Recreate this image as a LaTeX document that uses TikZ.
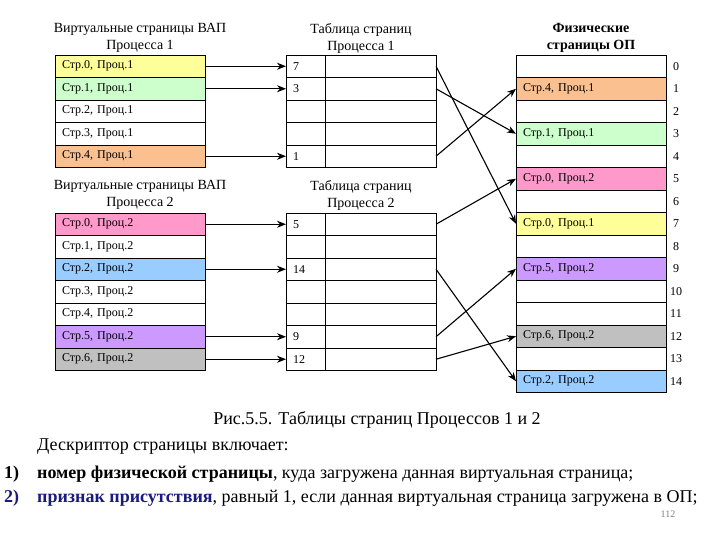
\documentclass[tikz,border=0pt]{standalone}
\usepackage{fontspec}
\setmainfont{Liberation Serif}
\usepackage{tikz}
\usetikzlibrary{arrows.meta, positioning}

\definecolor{strjelt}{HTML}{FFFF99}
\definecolor{strzel}{HTML}{CCFFCC}
\definecolor{strpers}{HTML}{FAC090}
\definecolor{strroz}{HTML}{FF99CC}
\definecolor{strgol}{HTML}{99CCFF}
\definecolor{strfiol}{HTML}{CC99FF}
\definecolor{strser}{HTML}{C0C0C0}
\definecolor{tsin}{HTML}{1A1A80}

\begin{document}
\begin{tikzpicture}[
				x=1pt, y=-1pt,
				yacheika/.style={draw, rectangle, minimum height=22.5pt, text width=136pt, inner xsep=7pt, inner ysep=0pt, outer sep=0pt, align=left, font=\fontsize{12}{13}\selectfont, line width=0.8pt, fill=white},
				zagolovok/.style={align=center, font=\fontsize{14}{17}\selectfont, inner sep=0pt},
				nomer/.style={font=\fontsize{12}{13}\selectfont, inner sep=0pt},
				tekst/.style={anchor=west, font=\fontsize{18}{21}\selectfont, inner sep=0pt},
				panah/.style={->, >={Stealth[length=9pt, width=7pt]}, line width=1.1pt}
			]
			\useasboundingbox (0,0) rectangle (720,540);

			% Виртуальные страницы Процесса 1
			\node[zagolovok] (zvap1) at (140,38) {Виртуальные страницы ВАП\\Процесса 1};
			\node[yacheika, anchor=north west, fill=strjelt] (vap1-0) at (55,55) {Стр.0, Проц.1};
			\node[yacheika, below=0pt of vap1-0, fill=strzel] (vap1-1) {Стр.1, Проц.1};
			\node[yacheika, below=0pt of vap1-1] (vap1-2) {Стр.2, Проц.1};
			\node[yacheika, below=0pt of vap1-2] (vap1-3) {Стр.3, Проц.1};
			\node[yacheika, below=0pt of vap1-3, fill=strpers] (vap1-4) {Стр.4, Проц.1};

			% Таблица страниц Процесса 1
			\node[zagolovok] (zpt1) at (361,38) {Таблица страниц\\Процесса 1};
			\node[yacheika, anchor=north west] (pt1-0) at (286,55) {7};
			\node[yacheika, below=0pt of pt1-0] (pt1-1) {3};
			\node[yacheika, below=0pt of pt1-1] (pt1-2) {};
			\node[yacheika, below=0pt of pt1-2] (pt1-3) {};
			\node[yacheika, below=0pt of pt1-3] (pt1-4) {1};
			\draw[line width=0.8pt] ([xshift=39pt]pt1-0.north west) -- ([xshift=39pt]pt1-4.south west);

			% Виртуальные страницы Процесса 2
			\node[zagolovok] (zvap2) at (140,195) {Виртуальные страницы ВАП\\Процесса 2};
			\node[yacheika, anchor=north west, fill=strroz] (vap2-0) at (55,213) {Стр.0, Проц.2};
			\node[yacheika, below=0pt of vap2-0] (vap2-1) {Стр.1, Проц.2};
			\node[yacheika, below=0pt of vap2-1, fill=strgol] (vap2-2) {Стр.2, Проц.2};
			\node[yacheika, below=0pt of vap2-2] (vap2-3) {Стр.3, Проц.2};
			\node[yacheika, below=0pt of vap2-3] (vap2-4) {Стр.4, Проц.2};
			\node[yacheika, below=0pt of vap2-4, fill=strfiol] (vap2-5) {Стр.5, Проц.2};
			\node[yacheika, below=0pt of vap2-5, fill=strser] (vap2-6) {Стр.6, Проц.2};

			% Таблица страниц Процесса 2
			\node[zagolovok] (zpt2) at (361,195) {Таблица страниц\\Процесса 2};
			\node[yacheika, anchor=north west] (pt2-0) at (286,213) {5};
			\node[yacheika, below=0pt of pt2-0] (pt2-1) {};
			\node[yacheika, below=0pt of pt2-1] (pt2-2) {14};
			\node[yacheika, below=0pt of pt2-2] (pt2-3) {};
			\node[yacheika, below=0pt of pt2-3] (pt2-4) {};
			\node[yacheika, below=0pt of pt2-4] (pt2-5) {9};
			\node[yacheika, below=0pt of pt2-5] (pt2-6) {12};
			\draw[line width=0.8pt] ([xshift=39pt]pt2-0.north west) -- ([xshift=39pt]pt2-6.south west);

			% Физические страницы ОП
			\node[zagolovok, font=\fontsize{14}{17}\selectfont\bfseries] (zop) at (591,38) {Физические\\страницы ОП};
			\node[yacheika, anchor=north west] (op0) at (516,55) {};
			\node[yacheika, below=0pt of op0, fill=strpers] (op1) {Стр.4, Проц.1};
			\node[yacheika, below=0pt of op1] (op2) {};
			\node[yacheika, below=0pt of op2, fill=strzel] (op3) {Стр.1, Проц.1};
			\node[yacheika, below=0pt of op3] (op4) {};
			\node[yacheika, below=0pt of op4, fill=strroz] (op5) {Стр.0, Проц.2};
			\node[yacheika, below=0pt of op5] (op6) {};
			\node[yacheika, below=0pt of op6, fill=strjelt] (op7) {Стр.0, Проц.1};
			\node[yacheika, below=0pt of op7] (op8) {};
			\node[yacheika, below=0pt of op8, fill=strfiol] (op9) {Стр.5, Проц.2};
			\node[yacheika, below=0pt of op9] (op10) {};
			\node[yacheika, below=0pt of op10] (op11) {};
			\node[yacheika, below=0pt of op11, fill=strser] (op12) {Стр.6, Проц.2};
			\node[yacheika, below=0pt of op12] (op13) {};
			\node[yacheika, below=0pt of op13, fill=strgol] (op14) {Стр.2, Проц.2};

			% Номера физических страниц
			\node[nomer] (n0) at ([xshift=10pt]op0.east) {0};
			\node[nomer] (n1) at ([xshift=10pt]op1.east) {1};
			\node[nomer] (n2) at ([xshift=10pt]op2.east) {2};
			\node[nomer] (n3) at ([xshift=10pt]op3.east) {3};
			\node[nomer] (n4) at ([xshift=10pt]op4.east) {4};
			\node[nomer] (n5) at ([xshift=10pt]op5.east) {5};
			\node[nomer] (n6) at ([xshift=10pt]op6.east) {6};
			\node[nomer] (n7) at ([xshift=10pt]op7.east) {7};
			\node[nomer] (n8) at ([xshift=10pt]op8.east) {8};
			\node[nomer] (n9) at ([xshift=10pt]op9.east) {9};
			\node[nomer] (n10) at ([xshift=10pt]op10.east) {10};
			\node[nomer] (n11) at ([xshift=10pt]op11.east) {11};
			\node[nomer] (n12) at ([xshift=10pt]op12.east) {12};
			\node[nomer] (n13) at ([xshift=10pt]op13.east) {13};
			\node[nomer] (n14) at ([xshift=10pt]op14.east) {14};

			% Стрелки ВАП -> таблица страниц
			\draw[panah] (vap1-0.east) -- (pt1-0.west);
			\draw[panah] (vap1-1.east) -- (pt1-1.west);
			\draw[panah] (vap1-4.east) -- (pt1-4.west);
			\draw[panah] (vap2-0.east) -- (pt2-0.west);
			\draw[panah] (vap2-2.east) -- (pt2-2.west);
			\draw[panah] (vap2-5.east) -- (pt2-5.west);
			\draw[panah] (vap2-6.east) -- (pt2-6.west);

			% Стрелки таблица страниц -> ОП
			\draw[panah] (pt1-0.east) -- (op7.west);
			\draw[panah] (pt1-1.east) -- (op3.west);
			\draw[panah] (pt1-4.east) -- (op1.west);
			\draw[panah] (pt2-0.east) -- (op5.west);
			\draw[panah] (pt2-2.east) -- (op14.west);
			\draw[panah] (pt2-5.east) -- (op9.west);
			\draw[panah] (pt2-6.east) -- (op12.west);

			% Подпись и текст
			\node[tekst, anchor=center] (podpis) at (377,420) {Рис.5.5. Таблицы страниц Процессов 1 и 2};
			\node[tekst] (deskr) at (37,447) {Дескриптор страницы включает:};
			\node[tekst] (num1) at (4,474) {\textbf{1)}};
			\node[tekst] (punkt1) at (37,474) {\textbf{номер физической страницы}, куда загружена данная виртуальная страница;};
			\node[tekst, text=tsin] (num2) at (4,498) {\textbf{2)}};
			\node[tekst] (punkt2) at (37,498) {\textcolor{tsin}{\textbf{признак присутствия}}, равный 1, если данная виртуальная страница загружена в ОП;};
			\node[font=\fontsize{10}{11}\selectfont, text=gray, inner sep=0pt] (str) at (668,514) {112};
		\end{tikzpicture}
\end{document}
